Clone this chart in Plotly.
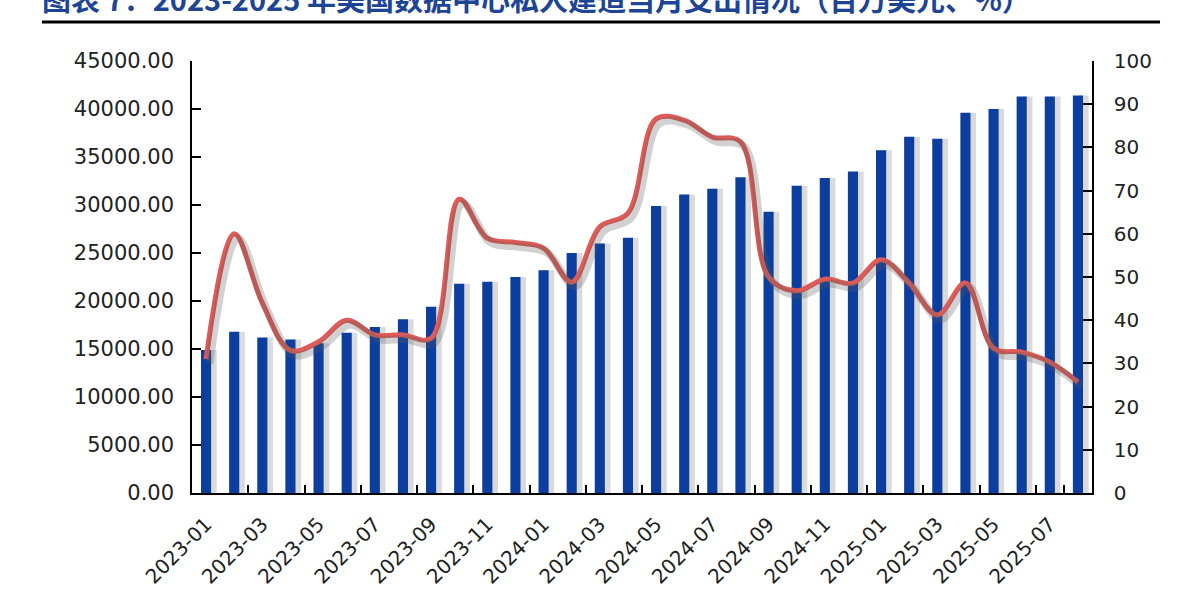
import plotly.graph_objects as go

months = [
    "2023-01", "2023-02", "2023-03", "2023-04", "2023-05", "2023-06", "2023-07", "2023-08",
    "2023-09", "2023-10", "2023-11", "2023-12", "2024-01", "2024-02", "2024-03", "2024-04",
    "2024-05", "2024-06", "2024-07", "2024-08", "2024-09", "2024-10", "2024-11", "2024-12",
    "2025-01", "2025-02", "2025-03", "2025-04", "2025-05", "2025-06", "2025-07", "2025-08",
]
spending = [
    14900, 16800, 16200, 16000, 15600, 16700, 17300, 18100,
    19400, 21800, 22000, 22500, 23200, 25000, 26000, 26600,
    29900, 31100, 31700, 32900, 29300, 32000, 32800, 33500,
    35700, 37100, 36900, 39600, 40000, 41300, 41300, 41400,
]
growth = [
    31, 60, 44, 33, 35, 40, 36.6, 36.6,
    35.8, 68, 59, 58, 56.7, 48.8, 61.6, 64.8,
    86.6, 86.3, 82.4, 81.3, 50, 46.8, 49.5, 48.6,
    54, 48.6, 41.2, 48.6, 33.5, 32.6, 30.3, 25.7,
]
label_months = months[::2]
left_ticks = [0, 5000, 10000, 15000, 20000, 25000, 30000, 35000, 40000, 45000]
right_ticks = [0, 10, 20, 30, 40, 50, 60, 70, 80, 90, 100]

title_text = "图表 7：2023-2025 年美国数据中心私人建造当月支出情况（百万美元、%）"

BAR_W = 0.36
fig = go.Figure()

# bar shadows
fig.add_trace(go.Bar(
    x=months, y=spending, width=BAR_W, offset=-BAR_W / 2 + 0.2,
    marker=dict(color="rgba(140,140,140,0.32)", line=dict(width=0)),
    hoverinfo="skip", showlegend=False,
))
fig.add_trace(go.Bar(
    x=months, y=spending, width=BAR_W, offset=-BAR_W / 2,
    marker=dict(color="#0B3E9F", line=dict(width=0)),
    name="支出", showlegend=False,
))
# line shadow (shifted axes)
fig.add_trace(go.Scatter(
    x=months, y=growth, xaxis="x3", yaxis="y3", mode="lines",
    line=dict(color="rgba(90,90,90,0.28)", width=8, shape="spline", smoothing=1.0),
    hoverinfo="skip", showlegend=False,
))
fig.add_trace(go.Scatter(
    x=months, y=growth, yaxis="y2", mode="lines",
    line=dict(color="#DE5B57", width=5, shape="spline", smoothing=1.0),
    name="同比", showlegend=False,
))

left_font = dict(family="DejaVu Sans, Verdana, sans-serif", size=21, color="#222222")
tick_font = dict(family="DejaVu Sans, Verdana, sans-serif", size=20, color="#222222")

fig.update_layout(
    width=1200, height=600,
    margin=dict(l=192, r=108, t=61, b=107),
    paper_bgcolor="white", plot_bgcolor="white",
    barmode="overlay",
    showlegend=False,
    title=dict(
        text=title_text, x=0.035, xanchor="left", y=0.998, yanchor="middle",
        font=dict(family="Noto Sans CJK SC", size=29, color="#1E4496", weight="bold"),
    ),
    xaxis=dict(
        type="category", categoryorder="array", categoryarray=months,
        range=[-0.5, len(months) - 0.5], automargin=False,
        tickmode="array", tickvals=label_months, ticktext=label_months,
        tickangle=-45, tickfont=tick_font,
        ticks="inside", ticklen=8, tickwidth=1.5, tickcolor="black", tickson="boundaries",
        showline=True, linecolor="black", linewidth=1.5, showgrid=False, zeroline=False,
        ticklabelstandoff=10,
    ),
    yaxis=dict(
        range=[0, 45000], tickmode="array", tickvals=left_ticks, automargin=False,
        tickformat=".2f", tickfont=left_font,
        ticks="inside", ticklen=9, tickwidth=1.5, tickcolor="black",
        showline=True, linecolor="black", linewidth=1.5, showgrid=False, zeroline=False,
        ticklabelstandoff=12,
    ),
    yaxis2=dict(
        range=[0, 100], overlaying="y", side="right", tickmode="array", tickvals=right_ticks,
        tickfont=tick_font, automargin=False,
        ticks="inside", ticklen=9, tickwidth=1.5, tickcolor="black",
        showline=True, linecolor="black", linewidth=1.5, showgrid=False, zeroline=False,
        ticklabelstandoff=16,
    ),
    xaxis3=dict(
        type="category", categoryorder="array", categoryarray=months, overlaying="x",
        range=[-0.5 - 0.12, len(months) - 0.5 - 0.12], visible=False, automargin=False,
    ),
    yaxis3=dict(range=[1.0, 101.0], overlaying="y", visible=False, automargin=False),
    shapes=[dict(
        type="line", xref="paper", yref="paper",
        x0=-0.1667, x1=1.0756, y0=1.0903, y1=1.0903,
        line=dict(color="black", width=3),
    )],
)

fig.write_html(
    "out.html",
    config={"displayModeBar": False},
    post_script="document.body.style.margin='0';",
)
